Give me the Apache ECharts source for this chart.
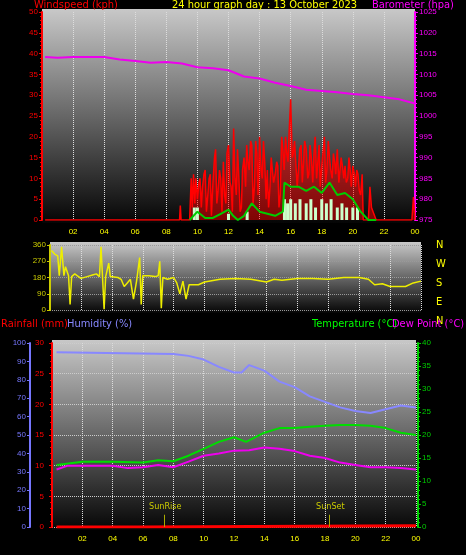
<!DOCTYPE html><html><head><meta charset="utf-8">
<script src="https://cdn.jsdelivr.net/npm/echarts@6/dist/echarts.min.js"></script>
<style>html,body{margin:0;background:#000}#c{width:466px;height:555px}</style></head><body><div id="c"></div>
<script>
const xTicks=['02','04','06','08','10','12','14','16','18','20','22','00'];
const baroT=[0.2,1,2,3,4,5,6,7,8,9,10,11,12,13,14,15,16,17,18,19,20,21,22,23,24];
const baroV=[1014.2,1014,1014.2,1014.2,1014.2,1013.6,1013.2,1012.8,1013,1012.6,1011.7,1011.5,1011,1009.5,1009,1008,1007.2,1006.3,1006,1005.7,1005.3,1005,1004.5,1004,1003];
const gustT=[0.2,8.85,8.9,8.95,9.5,9.6,9.67,9.75,9.83,9.9,10,10.1,10.17,10.25,10.33,10.42,10.5,10.58,10.67,10.75,10.83,10.9,11,11.1,11.17,11.25,11.33,11.42,11.5,11.58,11.67,11.75,11.83,11.9,12,12.1,12.17,12.25,12.33,12.42,12.5,12.58,12.67,12.75,12.83,12.9,13,13.1,13.17,13.25,13.33,13.42,13.5,13.58,13.67,13.75,13.83,13.9,14,14.1,14.17,14.25,14.33,14.42,14.5,14.58,14.67,14.75,14.83,14.9,15,15.1,15.17,15.25,15.33,15.42,15.5,15.58,15.67,15.75,15.83,15.9,16,16.1,16.17,16.25,16.33,16.42,16.5,16.58,16.67,16.75,16.83,16.9,17,17.1,17.17,17.25,17.33,17.42,17.5,17.58,17.67,17.75,17.83,17.9,18,18.1,18.17,18.25,18.33,18.42,18.5,18.58,18.67,18.75,18.83,18.9,19,19.1,19.17,19.25,19.33,19.42,19.5,19.58,19.67,19.75,19.83,19.9,20,20.1,20.17,20.25,20.33,20.42,20.5,20.6,20.67,20.83,21,21.1,21.2,21.5,23.8,23.85,23.9,24];
const gustV=[0,0,3.5,0,0,10,3,11,4,10,5,9,10,3,8,11,12,2,6,10,11,1,9,15,17,4,7,12,10,2,14,6,4,16,18,9,8,2,22,10,6,17,10,2,3,12,15,8,18,14,12,19,18,4,8,19,16,6,20,12,10,19,14,5,12,3,8,15,15,9,11,14,13,3,6,20,17,12,20,16,14,21,29,15,16,19,19,8,12,17,18,9,14,19,17,10,11,18,15,9,16,20,10,14,18,8,13,17,20,9,12,19,15,12,10,16,14,11,17,9,9,15,13,10,13,9,10,15,12,8,13,11,8,12,11,7,6,11,0,0,0,8,3,0,0,0,5.5,0,0];
const avgT=[9.5,10,10.5,11,11.5,12,12.3,12.6,13,13.5,14,14.5,15,15.5,15.6,16,16.5,17,17.5,18,18.5,19,19.5,20,20.5,21,21.5];
const avgV=[0,2,0.5,0.5,1.5,2.5,1,0,1,4,2,1.5,1,2,9,8,8,7,8,6.5,9,6,6.5,5,2,0,0];
const spdT=[9.8,10,12,13.2,15.6,15.8,16,16.3,16.6,17,17.3,17.6,18,18.3,18.6,19,19.3,19.6,20,20.3];
const spdV=[3,3,1.5,2,5,4,5,4,5,4,5,3,5,4,5,3,4,3,3,3];
const dirT=[0.1,0.3,0.5,0.6,0.75,0.9,1.0,1.2,1.3,1.4,1.6,2,2.4,2.8,3,3.2,3.3,3.4,3.5,3.6,3.8,3.9,4.4,4.6,4.8,5.0,5.2,5.4,5.6,5.8,5.9,6,6.4,6.8,7,7.1,7.2,7.3,7.6,8,8.2,8.4,8.6,8.8,9,9.6,10,11,12,13,14,14.5,15,16,17,18,19,20,20.6,21,21.5,22,23,23.5,24];
const dirV=[330,310,300,190,350,190,240,190,30,185,200,175,185,195,200,185,350,180,5,185,260,185,180,170,130,150,170,60,160,290,30,190,190,185,190,270,10,180,170,180,150,90,160,60,140,140,155,170,175,170,155,170,165,175,175,170,180,180,170,140,145,130,130,150,160];
const humT=[0.3,8,9,10,11,12,12.5,13,14,15,16,17,18,19,20,21,22,23,24];
const humV=[95,94,93,91,87,84,84,88,85,79,76,71,68,65,63,62,64,66,65];
const tmpT=[0.3,2,4,6,7,8,9,10,11,12,12.8,14,15,16,17,18,19,20,21,22,23,24];
const tmpV=[13.5,14.2,14.2,14,14.5,14.3,15.5,17,18.5,19.5,18.5,20.5,21.5,21.5,21.8,22,22.2,22.2,22,21.5,20.5,20];
const dewT=[0.3,1,4,5,6,7,8,9,10,11,12,13,14,15,16,17,18,19,20,21,22,23,24];
const dewV=[12.5,13.3,13.3,12.8,13,13.5,13,14.2,15.5,16,16.6,16.7,17.3,17,16.5,15.5,15,14,13.5,13,13,12.8,12.5];
const rainT=[0.3,5.9,6,24];
const rainV=[0,0,0.2,0.2];
const pairs=(t,v)=>t.map((x,i)=>[x,v[i]]);
const grids=[{left:42,right:51,top:12,height:208},{left:50,right:45,top:245,height:65},{left:52,right:50,top:343,height:184}];
const bg=grids.map(g=>({type:'rect',left:g.left,top:g.top-3,shape:{width:466-g.left-g.right,height:g.height+6},z:-1,
 style:{fill:new echarts.graphic.LinearGradient(0,0,0,1,[{offset:0,color:'#c8c8c8'},{offset:1,color:'#050505'}])}}));
const F='11px "DejaVu Sans Condensed","DejaVu Sans"';
const txt=(l,t,s,c,f)=>({type:'text',left:l,top:t,style:{text:s,fill:c,font:f||F}});
const fmtH=v=>{const h=Math.round(v)%24;return (h<10?'0':'')+h;};
function xAx(gi,show){return {type:'value',gridIndex:gi,min:0,max:24,interval:2,
 axisLabel:{show:show,color:'#ff0',fontSize:8,formatter:v=>v===0?'':fmtH(v)},axisLine:{show:false},axisTick:{show:false},
 splitLine:{show:true,lineStyle:{color:'#ddd',type:'dotted',width:1}}};}
function yAx(gi,min,max,itv,color,pos,offset,extra){return Object.assign({type:'value',gridIndex:gi,min,max,interval:itv,position:pos,offset:offset||0,
 axisLabel:{color,fontSize:8,margin:4,formatter:v=>String(v)},axisLine:{show:true,lineStyle:{color,width:2}},axisTick:{show:true,length:3,lineStyle:{color}},
 minorTick:{show:true,splitNumber:5,length:2,lineStyle:{color}},splitLine:{show:false}},extra||{});}
const opt={backgroundColor:'#000',animation:false,grid:grids,
 graphic:bg.concat([
  txt(34,0,'Windspeed (kph)','#f00'),txt(172,0,'24 hour graph day : 13 October 2023','#ff0'),txt(372,0,'Barometer (hpa)','#f0f'),
  txt(436,240,'N','#ff0'),txt(436,259,'W','#ff0'),txt(436,278,'S','#ff0'),txt(436,297,'E','#ff0'),txt(436,316,'N','#ff0'),
  txt(1,319,'Rainfall (mm)','#f00'),txt(67,319,'Humidity (%)','#88f'),txt(312,319,'Temperature (°C)','#0f0'),txt(392,319,'Dew Point (°C)','#f0f'),
  txt(149,502,'SunRise','#cc0','9px "DejaVu Sans Condensed","DejaVu Sans"'),
  txt(316,502,'SunSet','#cc0','9px "DejaVu Sans Condensed","DejaVu Sans"')
 ]),
 xAxis:[xAx(0,true),xAx(1,false),xAx(2,true)],
 yAxis:[
  yAx(0,0,50,5,'#f00','left'),
  yAx(0,975,1025,5,'#f0f','right'),
  yAx(1,0,360,90,'#cc0','left',0,{minorTick:{show:false},splitLine:{show:true,lineStyle:{color:'#999',type:'dotted'}}}),
  yAx(2,0,30,5,'#f00','left',4,{splitLine:{show:true,lineStyle:{color:'#ccc',type:'dotted'}}}),
  yAx(2,0,100,10,'#77f','left',22,{minorTick:{show:false}}),
  yAx(2,0,40,5,'#0c0','right',2)
 ],
 series:[
  {type:'line',xAxisIndex:0,yAxisIndex:1,data:pairs(baroT,baroV),showSymbol:false,lineStyle:{color:'#e0e',width:2}},
  {type:'line',xAxisIndex:0,yAxisIndex:0,data:pairs(gustT,gustV),showSymbol:false,lineStyle:{color:'#f00',width:1.5},areaStyle:{color:'rgba(255,0,0,0.7)'},z:2},
  {type:'bar',xAxisIndex:0,yAxisIndex:0,data:pairs(spdT,spdV),barWidth:3,itemStyle:{color:'#cfc'},z:3},
  {type:'line',xAxisIndex:0,yAxisIndex:0,data:pairs(avgT,avgV),showSymbol:false,lineStyle:{color:'#0c0',width:2},z:4},
  {type:'line',xAxisIndex:1,yAxisIndex:2,data:pairs(dirT,dirV),showSymbol:false,lineStyle:{color:'#ee0',width:1.5}},
  {type:'line',xAxisIndex:2,yAxisIndex:4,data:pairs(humT,humV),showSymbol:false,lineStyle:{color:'#88f',width:2}},
  {type:'line',xAxisIndex:2,yAxisIndex:5,data:pairs(tmpT,tmpV),showSymbol:false,lineStyle:{color:'#0d0',width:2}},
  {type:'line',xAxisIndex:2,yAxisIndex:5,data:pairs(dewT,dewV),showSymbol:false,lineStyle:{color:'#e0e',width:2}},
  {type:'line',xAxisIndex:2,yAxisIndex:3,data:pairs(rainT,rainV),showSymbol:false,lineStyle:{color:'#f00',width:3},
   markLine:{symbol:'none',label:{show:false},lineStyle:{color:'#aa0',width:1,type:'solid'},data:[[{coord:[7.4,0]},{coord:[7.4,2]}],[{coord:[18.3,0]},{coord:[18.3,2]}]]}}
 ]};
const ch=echarts.init(document.getElementById('c'));ch.setOption(opt);
</script></body></html>
